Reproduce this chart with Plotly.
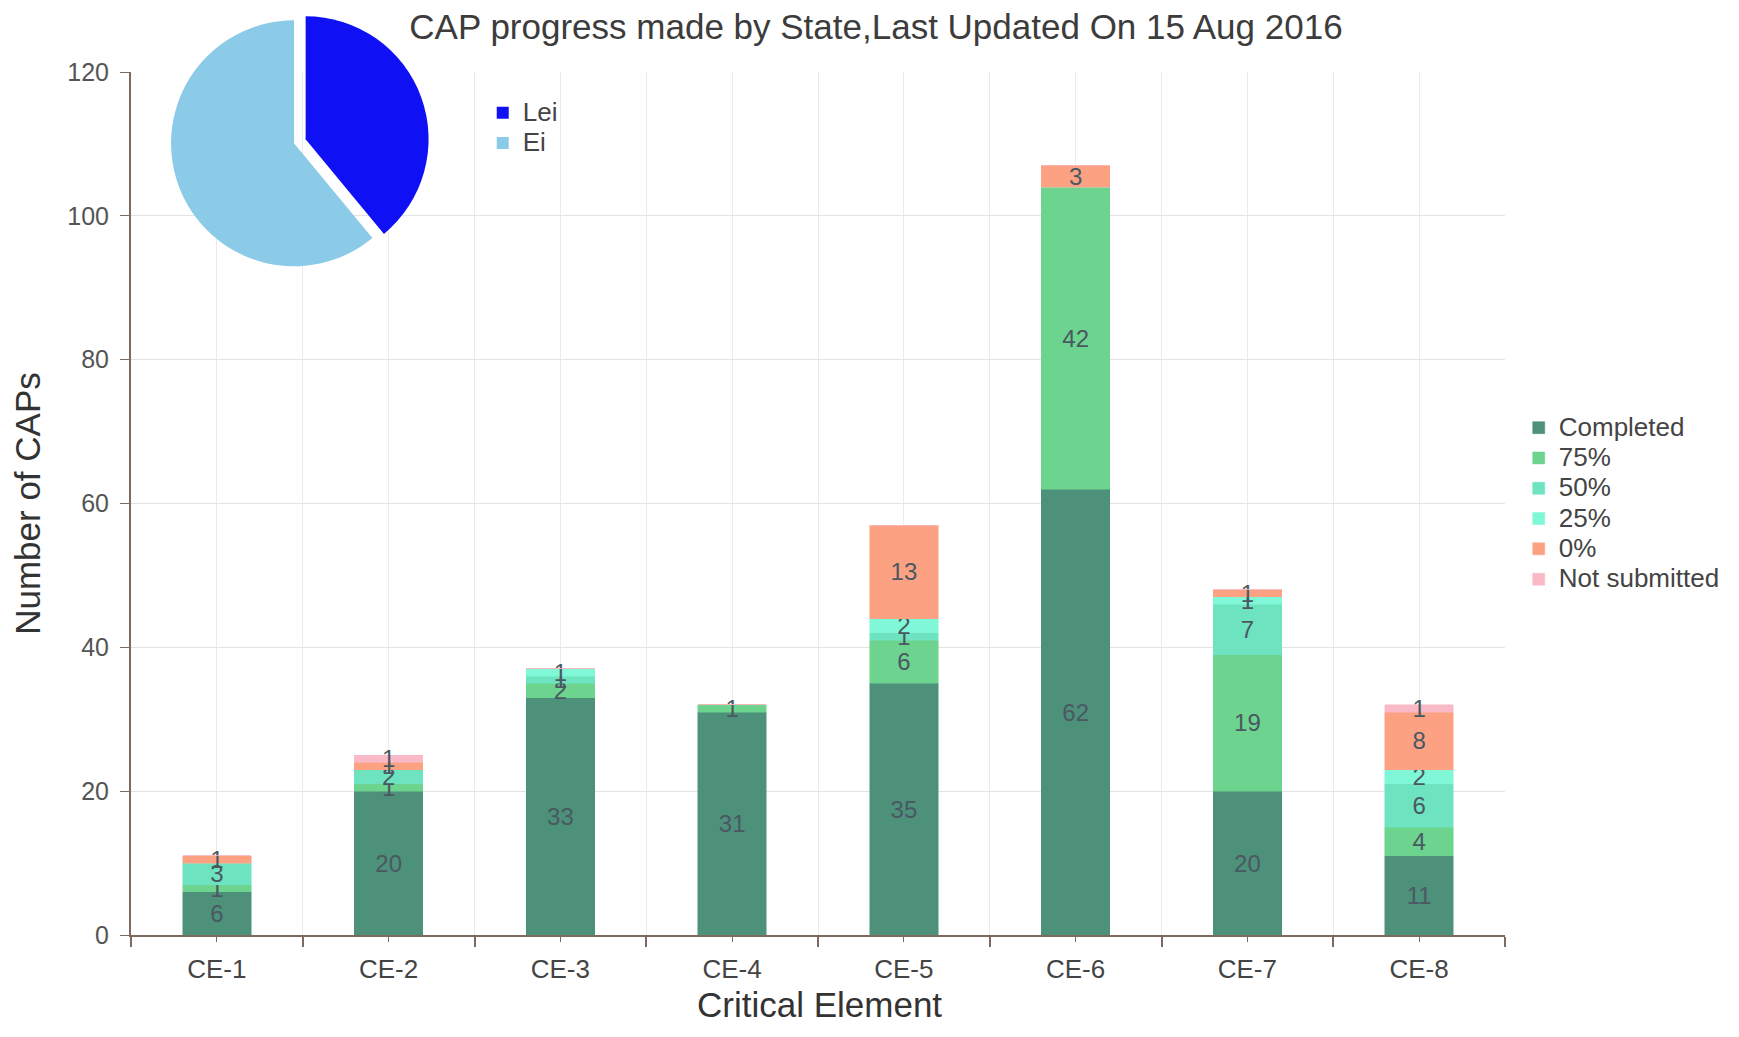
import plotly.graph_objects as go

categories = ["CE-1", "CE-2", "CE-3", "CE-4", "CE-5", "CE-6", "CE-7", "CE-8"]
completed = [6, 20, 33, 31, 35, 62, 20, 11]
p75 = [1, 1, 2, 1, 6, 42, 19, 4]
p50 = [3, 2, 1, 0, 1, 0, 7, 6]
p25 = [0, 0, 1, 0, 2, 0, 1, 2]
p0 = [1, 1, 0, 0, 13, 3, 1, 8]
not_submitted = [0, 1, 0, 0, 0, 0, 0, 1]

pie_labels = ["Lei", "Ei"]
pie_values = [39, 61]

series = [
    ("Completed", completed, "#4d917b"),
    ("75%", p75, "#6cd48e"),
    ("50%", p50, "#6ee3bf"),
    ("25%", p25, "#80f7d6"),
    ("0%", p0, "#fca283"),
    ("Not submitted", not_submitted, "#f9b9c6"),
]

# The page body has an 8px margin, so the figure is sized to fit the window.
W, H = 1723, 1021
ML, MR, MT, MB = 123, 226, 0, 94
plot_h = H - MT - MB


def legend_text(s):
    return '<span style="font-size:26px">' + s + '</span>'


xs = list(range(len(categories)))
fig = go.Figure()
for name, vals, color in series:
    fig.add_trace(go.Bar(
        x=xs, y=vals, name=legend_text(name), width=0.4,
        marker=dict(color=color, line=dict(color=color, width=0.5)),
        text=[str(v) if v else "" for v in vals],
        textposition="inside", insidetextanchor="middle", textangle=0,
        constraintext="none", cliponaxis=False,
        textfont=dict(size=24, color="#4a5862", family="Liberation Sans, Arial"),
        hovertemplate=name + ": %{y}<extra></extra>",
    ))

fig.add_trace(go.Pie(
    labels=[legend_text(s) for s in pie_labels], values=pie_values, sort=False,
    direction="clockwise", rotation=0, pull=[0.1, 0], textinfo="none",
    marker=dict(colors=["#1010f5", "#8ccbe8"], line=dict(width=0)),
    domain=dict(x=[0.0202, 0.2171], y=[0.7081, 1.0]),
    legend="legend2", showlegend=True,
))

axis_color = "#7d6b60"
fig.update_layout(
    width=W, height=H,
    barmode="stack",
    plot_bgcolor="white", paper_bgcolor="white",
    font=dict(family="Liberation Sans, Arial", color="#444444"),
    margin=dict(l=ML, r=MR, t=MT, b=MB, autoexpand=False),
    title=dict(text="CAP progress made by State,Last Updated On 15 Aug 2016",
               x=(876 - 8) / W, xref="container", xanchor="center",
               y=1 - 19 / H, yref="container", yanchor="middle",
               font=dict(size=35, color="#3c3c3c")),
    xaxis=dict(
        range=[-0.5, 7.5], tickmode="array", tickvals=xs, ticktext=categories,
        tickfont=dict(size=26, color="#444444"),
        showgrid=True, gridcolor="#ebebeb", gridwidth=1,
        showline=True, linecolor=axis_color, linewidth=2,
        ticks="outside", ticklen=5, tickcolor=axis_color, tickwidth=1,
        ticklabelstandoff=5,
        minor=dict(tickmode="linear", tick0=-0.5, dtick=1, ticks="outside",
                   ticklen=10, tickcolor=axis_color, tickwidth=2,
                   showgrid=True, gridcolor="#ebebeb"),
        zeroline=False, automargin=False,
    ),
    yaxis=dict(
        range=[0, 120], dtick=20, domain=[0, (plot_h - 64) / plot_h],
        tickfont=dict(size=25, color="#555555"),
        showgrid=True, gridcolor="#e3e3e3", gridwidth=1,
        showline=True, linecolor=axis_color, linewidth=2,
        ticks="outside", ticklen=9, tickcolor=axis_color, tickwidth=1,
        ticklabelstandoff=6,
        zeroline=False, automargin=False,
        title=dict(text="Number of CAPs", font=dict(size=35, color="#333333"), standoff=22),
    ),
    annotations=[dict(
        text="Critical Element", xref="paper", yref="paper",
        x=(819.5 - 8 - ML) / (W - ML - MR), y=(plot_h - 997) / plot_h,
        xanchor="center", yanchor="middle", showarrow=False,
        font=dict(size=35, color="#333333"),
    )],
    legend=dict(x=1.01, xanchor="left", y=(plot_h - 495.5) / plot_h, yanchor="middle",
                font=dict(size=21, color="#444444"), traceorder="normal",
                bgcolor="rgba(0,0,0,0)"),
    legend2=dict(x=0.256, xanchor="left", y=(plot_h - 120) / plot_h, yanchor="middle",
                 font=dict(size=21, color="#444444"),
                 bgcolor="rgba(0,0,0,0)"),
)

fig.write_html("out.html")
